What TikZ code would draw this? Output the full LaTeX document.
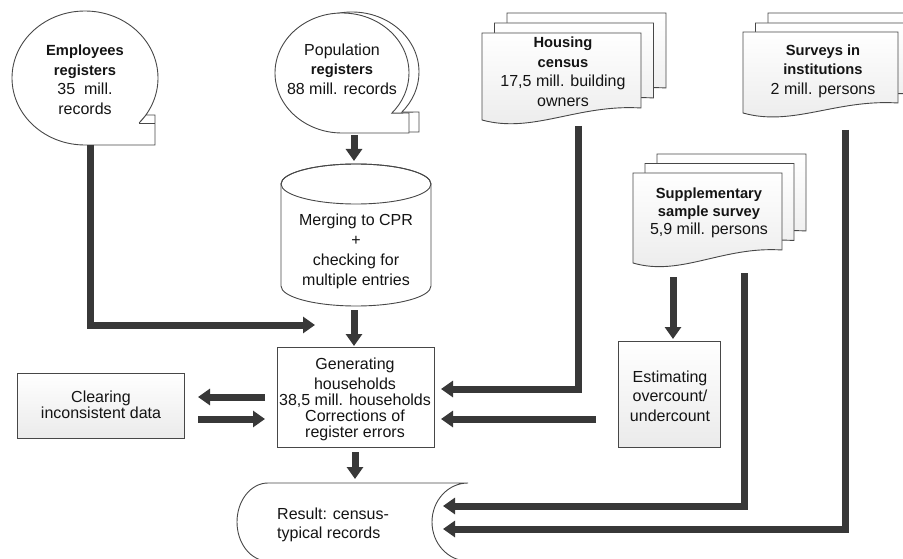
\documentclass[tikz,border=0pt]{standalone}
\usepackage{fontspec}
\setmainfont{Liberation Sans}
\usetikzlibrary{arrows.meta}

\tikzset{
  shapeline/.style={draw=black!72, line width=0.9pt},
  plainfill/.style={shapeline, fill=white},
  shadefill/.style={shapeline, top color=white, middle color=white, bottom color=black!8},
  flow/.style={draw=black!78, line width=7pt, -{Triangle[width=16pt,length=12pt]}},
  txt/.style={font=\fontsize{16}{19.5}\selectfont, text=black!92, align=center, inner sep=0pt},
}
\newcommand\ttl[1]{{\fontsize{14.7}{19}\selectfont\bfseries #1}}
% document sheet: left, top, width, left height, right height
\newcommand\docpath[5]{(#1,#2) -- ({#1+#3},#2) -- ({#1+#3},{#2+#5})
  .. controls ({#1+0.6*#3},{#2+#5-4}) and ({#1+0.32*#3},{#2+#4+14}) .. (#1,{#2+#4}) -- cycle}

\begin{document}
\begin{tikzpicture}[x=1pt,y=-1pt]
\useasboundingbox (0,0) rectangle (903,559);
\clip (0,0) rectangle (903,559);

% ---- Employees registers (speech bubble)
\path[plainfill] (85,145) arc[start angle=90,end angle=402,x radius=73,y radius=67]
  -- (146,115) -- (155,115) -- (155,145) -- cycle;
\draw[shapeline] (139,123) -- (155,123);
\node[txt] (emp) at (85,80) {\ttl{Employees}\\\ttl{registers}\\35 \ mill.\\records};

% ---- Population registers (double bubble)
\path[plainfill] (352,132) arc[start angle=90,end angle=402,x radius=67,y radius=60]
  -- (419,112) -- (419,132) -- cycle;
\path[plainfill] (342,133) arc[start angle=90,end angle=402,x radius=67,y radius=60]
  -- (409,113) -- (409,133) -- cycle;
\node[txt] (pop) at (342,69) {Population\\\ttl{registers}\\88 mill. records};

% ---- Housing census (stack of sheets)
\path[shadefill] \docpath{507}{13}{159}{87}{75};
\path[shadefill] \docpath{494.5}{23}{159}{87}{75};
\path[shadefill] \docpath{482}{33}{159}{87}{75};
\node[txt] (hous) at (563,72) {\ttl{Housing}\\\ttl{census}\\17,5 mill. building\\owners};

% ---- Surveys in institutions (stack of sheets)
\path[shadefill] \docpath{768}{13}{155}{81}{71};
\path[shadefill] \docpath{755.5}{23}{155}{81}{71};
\path[shadefill] \docpath{743}{32}{155}{81}{71};
\node[txt] (surv) at (823,71) {\ttl{Surveys in}\\\ttl{institutions}\\2 mill. persons};

% ---- Supplementary sample survey (stack of sheets)
\path[shadefill] \docpath{657}{154}{149}{90}{77};
\path[shadefill] \docpath{645}{163.5}{149}{90}{77};
\path[shadefill] \docpath{633}{173}{149}{90}{77};
\node[txt, font=\fontsize{16}{18}\selectfont] (supp) at (709,213) {\ttl{Supplementary}\\\ttl{sample survey}\\5,9 mill. persons};

% ---- Merging to CPR (cylinder)
\path[plainfill] (281,184) -- (281,286) arc[start angle=180,end angle=0,x radius=75,y radius=20]
  -- (431,184) arc[start angle=0,end angle=-180,x radius=75,y radius=20] -- cycle;
\draw[shapeline] (356,184) ellipse [x radius=75, y radius=20];
\node[txt, font=\fontsize{16}{20}\selectfont] (merge) at (356,251) {Merging to CPR\\+\\checking for\\multiple entries};

% ---- Generating households
\draw[shapeline, fill=white] (277,347) rectangle (434,447);
\node[txt, font=\fontsize{16}{16}\selectfont] (gen) at (355,399)
  {Generating\\[4pt]households\\38,5 mill. households\\Corrections of\\register errors};

% ---- Clearing inconsistent data
\path[shadefill] (17,373) rectangle (184,438);
\node[txt, font=\fontsize{16}{16.5}\selectfont] (clear) at (101,405) {Clearing\\inconsistent data};

% ---- Estimating overcount/undercount
\path[shadefill] (618,341) rectangle (720,447);
\node[txt] (est) at (670,396) {Estimating\\overcount/\\undercount};

% ---- Result: census-typical records
\path[plainfill] (268,483) -- (468,483)
  arc[start angle=270,end angle=90,x radius=36,y radius=39] -- (268,561)
  arc[start angle=90,end angle=270,x radius=31,y radius=39] -- cycle;
\node[txt, align=left, anchor=west] (res) at (277,525) {Result: census-\\typical records};

% ---- connector end points
\coordinate (empOut) at (90,145);
\coordinate (empIn)  at (315,325);
\coordinate (popOut) at (354,135);
\coordinate (mergeIn) at (354,161);
\coordinate (mergeOut) at (354,310);
\coordinate (genIn) at (354,346);
\coordinate (genOut) at (355,452);
\coordinate (resIn) at (355,479);
\coordinate (genW1) at (265,397);
\coordinate (clearE1) at (198,397);
\coordinate (clearE2) at (198,419);
\coordinate (genW2) at (265,419);
\coordinate (housOut) at (578,126);
\coordinate (genE1) at (441,389);
\coordinate (suppOut) at (673,277);
\coordinate (estIn) at (673,339);
\coordinate (estOut) at (596,419);
\coordinate (genE2) at (441,419);
\coordinate (suppOut2) at (744,273);
\coordinate (resE1) at (443,506);
\coordinate (survOut) at (845,130);
\coordinate (resE2) at (443,529);

% ---- connectors
\draw[flow] (empOut) |- (empIn);
\draw[flow] (popOut) -- (mergeIn);
\draw[flow] (mergeOut) -- (genIn);
\draw[flow] (genOut) -- (resIn);
\draw[flow] (genW1) -- (clearE1);
\draw[flow] (clearE2) -- (genW2);
\draw[flow] (housOut) |- (genE1);
\draw[flow] (suppOut) -- (estIn);
\draw[flow] (estOut) -- (genE2);
\draw[flow] (suppOut2) |- (resE1);
\draw[flow] (survOut) |- (resE2);
\end{tikzpicture}
\end{document}
